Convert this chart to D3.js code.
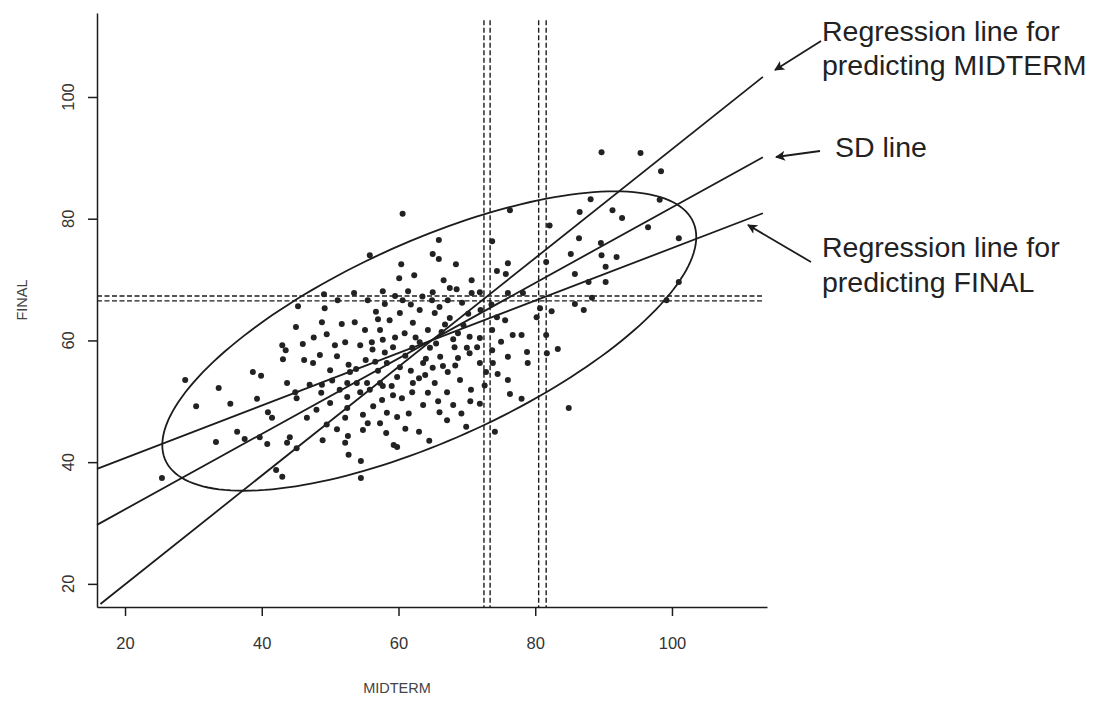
<!DOCTYPE html>
<html><head><meta charset="utf-8">
<script src="https://cdn.jsdelivr.net/npm/d3@7"></script>
<style>body{margin:0;background:#fff} svg{display:block}</style>
</head><body><svg id="c" width="1099" height="702"></svg>
<script>
const xDomain=[15.9,113.9];
const yDomain=[16.2,113.8];
const xTicks=[20,40,60,80,100];
const yTicks=[20,40,60,80,100];
const xTitle="MIDTERM";
const yTitle="FINAL";
const points=[
[25.4,37.4],[28.8,53.5],[30.4,49.2],[33.7,52.2],[33.3,43.3],[35.4,49.6],[36.4,45.0],[37.5,43.8],[38.7,54.8],[39.9,54.2],
[39.3,50.4],[39.7,44.1],[40.9,48.2],[41.5,47.3],[40.8,43.0],[42.1,38.7],[43.0,37.6],[43.7,53.0],[44.9,51.5],[45.1,50.5],
[44.1,44.1],[43.7,43.2],[45.1,42.3],[46.6,47.3],[48.8,52.7],[48.7,51.4],[48.9,43.6],[50.0,49.7],[52.5,53.0],[53.9,53.0],
[55.4,53.0],[57.7,52.5],[59.2,51.0],[57.6,50.2],[54.4,51.5],[52.5,50.7],[52.5,48.9],[52.2,47.3],[54.8,47.8],[55.5,46.4],
[57.3,46.4],[58.3,48.1],[59.8,47.4],[54.8,45.3],[52.2,43.2],[52.6,44.3],[52.7,41.2],[59.8,42.5],[54.5,37.4],[43.0,59.2],
[43.5,58.4],[43.1,56.9],[45.0,62.2],[45.3,65.6],[46.2,56.8],[47.5,56.3],[48.8,63.0],[49.1,67.6],[49.2,65.3],[51.1,66.6],
[51.7,62.7],[52.2,59.7],[52.7,56.0],[53.6,63.0],[53.5,67.8],[55.8,74.0],[56.1,59.7],[56.6,56.5],[55.5,66.6],[56.7,64.7],
[57.3,61.7],[57.7,68.1],[50.7,59.2],[48.5,57.6],[54.4,59.2],[55.1,61.7],[50.0,55.1],[47.0,52.7],[51.4,51.9],[52.9,54.8],
[55.8,51.9],
[60.6,80.8],[65.9,76.5],[65.0,74.2],[65.9,73.4],[68.4,72.5],[60.4,72.5],[62.3,70.7],[60.1,70.2],[66.6,69.9],[70.7,69.9],
[73.7,76.3],[74.4,71.4],[76.0,72.7],[75.7,70.9],[82.1,78.9],[81.6,72.9],[85.2,74.2],[85.8,70.9],[86.4,76.8],[86.5,81.1],
[88.1,83.2],[89.6,76.0],[89.7,74.0],[90.3,72.1],[90.3,69.6],[87.8,69.6],[91.9,73.7],[91.3,81.4],[92.7,80.1],[96.5,78.6],
[98.2,83.1],[101.0,76.8],[101.0,69.6],[99.2,66.6],[89.7,90.9],[95.4,90.8],[98.4,87.8],[85.8,66.0],[87.1,65.0],[88.3,67.0],
[82.4,64.8],[80.7,65.3],[80.2,63.8],[81.6,60.9],[81.7,57.9],[83.3,58.6],[78.8,58.1],[78.9,56.3],[76.0,57.3],[76.0,53.5],
[76.3,51.2],[78.0,50.4],[84.9,48.9],[76.3,81.4],
[61.4,68.1],[65.0,67.9],[67.5,68.6],[68.5,68.4],[70.7,67.8],[71.9,67.9],[60.6,66.6],[64.9,66.6],[67.2,66.6],[76.0,67.8],
[78.2,67.8],[63.1,65.0],[65.3,64.5],[67.5,63.7],[60.2,64.5],[58.7,63.3],[62.1,62.9],[64.3,61.7],[66.3,61.4],[68.7,61.2],
[70.4,60.6],[71.9,60.4],[73.7,61.7],[74.4,63.8],[75.6,63.3],[76.7,60.9],[78.0,60.9],[57.7,60.1],[60.9,61.2],[63.1,59.7],
[59.2,58.9],[62.0,58.8],[64.6,58.8],[68.2,58.9],[70.0,58.8],[71.5,58.9],[73.7,58.4],[58.3,56.3],[60.2,55.6],[63.6,56.3],
[66.1,57.3],[68.7,57.1],[70.4,57.9],[71.9,56.3],[73.8,56.3],[57.3,53.0],[59.8,54.0],[62.1,53.0],[63.9,54.3],[65.3,53.0],
[67.2,54.8],[69.0,53.5],[62.0,51.5],[64.3,51.4],[63.6,49.4],[71.9,49.6],[70.6,51.9],[67.1,51.5],[68.0,49.4],
[67.1,46.9],[69.9,45.8],[74.1,45.0],[59.3,42.8],[54.5,40.2],
[58.0,58.0],[59.5,60.5],[61.0,57.5],[62.5,60.5],[64.0,57.0],[65.5,59.5],[66.8,62.6],[68.0,60.2],[69.5,62.5],[61.8,55.0],
[63.0,53.8],[65.0,55.5],[66.5,55.8],[68.3,55.9],[59.0,52.5],[60.5,50.5],[61.5,48.0],[65.8,50.0],[66.0,48.2],[69.2,48.0],
[70.5,50.0],[72.6,52.6],[72.8,54.8],[74.5,54.5],[75.0,59.8],[61.8,65.9],[63.5,67.2],[66.0,65.5],[69.3,66.2],[70.2,64.4],
[72.0,65.0],[73.6,65.9],[59.5,67.3],[57.0,63.5],[58.0,66.0],[56.2,58.5],[57.0,55.0],[55.2,56.8],[53.8,55.3],[51.0,57.4],
[49.5,61.0],[47.6,60.5],[46.0,59.4],[50.3,53.4],[48.0,48.6],[49.5,46.2],[51.0,45.4],[56.3,49.2],[58.2,44.8],[61.0,45.5],
[63.0,45.0],[64.5,43.5]
];
const regFinal=[[15.9,38.9],[113.3,80.9]];
const sdLine=[[15.9,29.7],[113.3,90.1]];
const regMidterm=[[16.4,16.7],[113.3,103.3]];
const ellipseCenter=[64.5,59.9];
const ellipseRadii=[39.05,24.6];
const correlation=0.695;
const vLines=[72.5,73.4,80.5,81.6];
const hLines=[67.3,66.5];
const labelMidterm=["Regression line for","predicting MIDTERM"];
const labelSD=["SD line"];
const labelFinal=["Regression line for","predicting FINAL"];

const svg=d3.select("#c");
const x=d3.scaleLinear().domain(xDomain).range([97,767]);
const y=d3.scaleLinear().domain(yDomain).range([607,13]);
const ink="#1c1c1c";

// dashed reference lines
const vTop=112.6;
svg.append("g").selectAll("line").data(vLines).join("line")
  .attr("x1",d=>x(d)).attr("x2",d=>x(d)).attr("y1",y(vTop)).attr("y2",y(yDomain[0]))
  .attr("stroke",ink).attr("stroke-width",1.4).attr("stroke-dasharray","5,2.5");
svg.append("g").selectAll("line").data(hLines).join("line")
  .attr("x1",x(xDomain[0])).attr("x2",x(113.5)).attr("y1",d=>y(d)).attr("y2",d=>y(d))
  .attr("stroke",ink).attr("stroke-width",1.4).attr("stroke-dasharray","5,2.5");

// ellipse
const th=Math.acos(correlation);
const ePts=d3.range(0,361,2).map(a=>{const t=a*Math.PI/180;return [ellipseCenter[0]+ellipseRadii[0]*Math.cos(t), ellipseCenter[1]+ellipseRadii[1]*Math.cos(t-th)];});
const lineC=d3.line().x(d=>x(d[0])).y(d=>y(d[1])).curve(d3.curveLinearClosed);
svg.append("path").attr("d",lineC(ePts)).attr("fill","none").attr("stroke",ink).attr("stroke-width",1.8);
const line2=d3.line().x(d=>x(d[0])).y(d=>y(d[1]));
[regFinal,sdLine,regMidterm].forEach(l=>{
  svg.append("path").attr("d",line2(l)).attr("fill","none").attr("stroke",ink).attr("stroke-width",1.8);
});

// points
svg.append("g").selectAll("circle").data(points).join("circle")
  .attr("cx",d=>x(d[0])).attr("cy",d=>y(d[1])).attr("r",3).attr("fill","#222");

// axes
const xa=svg.append("g").attr("transform","translate(0,607)")
  .call(d3.axisBottom(x).tickValues(xTicks).tickSize(9).tickSizeOuter(0).tickPadding(21));
xa.selectAll("text").attr("font-family","Liberation Sans, Arial, sans-serif").attr("font-size",16.5).attr("fill","#333");
const ya=svg.append("g").attr("transform","translate(97,0)")
  .call(d3.axisLeft(y).tickValues(yTicks).tickSize(9).tickSizeOuter(0).tickFormat(""));
svg.selectAll(".domain, .tick line").attr("stroke",ink).attr("stroke-width",1.5);
svg.append("g").selectAll("text").data(yTicks).join("text")
  .attr("transform",d=>`translate(68,${y(d)}) rotate(-90)`)
  .attr("text-anchor","middle").attr("dy","0.36em")
  .attr("font-family","Liberation Sans, Arial, sans-serif").attr("font-size",16.5).attr("fill","#333")
  .text(d=>d);

// axis titles
svg.append("text").attr("x",397).attr("y",693).attr("text-anchor","middle")
  .attr("font-family","Liberation Sans, Arial, sans-serif").attr("font-size",14.5).attr("fill","#444").text(xTitle);
svg.append("text").attr("transform","translate(27,300) rotate(-90)").attr("text-anchor","middle")
  .attr("font-family","Liberation Sans, Arial, sans-serif").attr("font-size",14.5).attr("fill","#444").text(yTitle);

// annotations
const defs=svg.append("defs");
defs.append("marker").attr("id","ah").attr("viewBox","0 0 10 10").attr("refX",9).attr("refY",5)
  .attr("markerWidth",14).attr("markerHeight",10).attr("markerUnits","userSpaceOnUse").attr("orient","auto")
  .append("path").attr("d","M0,0 L10,5 L0,10 L2.5,5 Z").attr("fill",ink);
const annFont="Liberation Sans, Arial, sans-serif";
function addLines(lines,x0,y0,dy){
  svg.append("g").selectAll("text").data(lines).join("text")
    .attr("x",x0).attr("y",(d,i)=>y0+i*dy).attr("font-family",annFont).attr("font-size",28.5).attr("fill","#222").text(d=>d);
}
addLines(labelMidterm,822,41,34);
addLines(labelSD,835,157,34);
addLines(labelFinal,822,257,35);
const arrows=[[821,41,775,70],[820,151,776,157],[811,262,748,225]];
svg.append("g").selectAll("line").data(arrows).join("line")
  .attr("x1",d=>d[0]).attr("y1",d=>d[1]).attr("x2",d=>d[2]).attr("y2",d=>d[3])
  .attr("stroke",ink).attr("stroke-width",1.8).attr("marker-end","url(#ah)");
</script></body></html>
